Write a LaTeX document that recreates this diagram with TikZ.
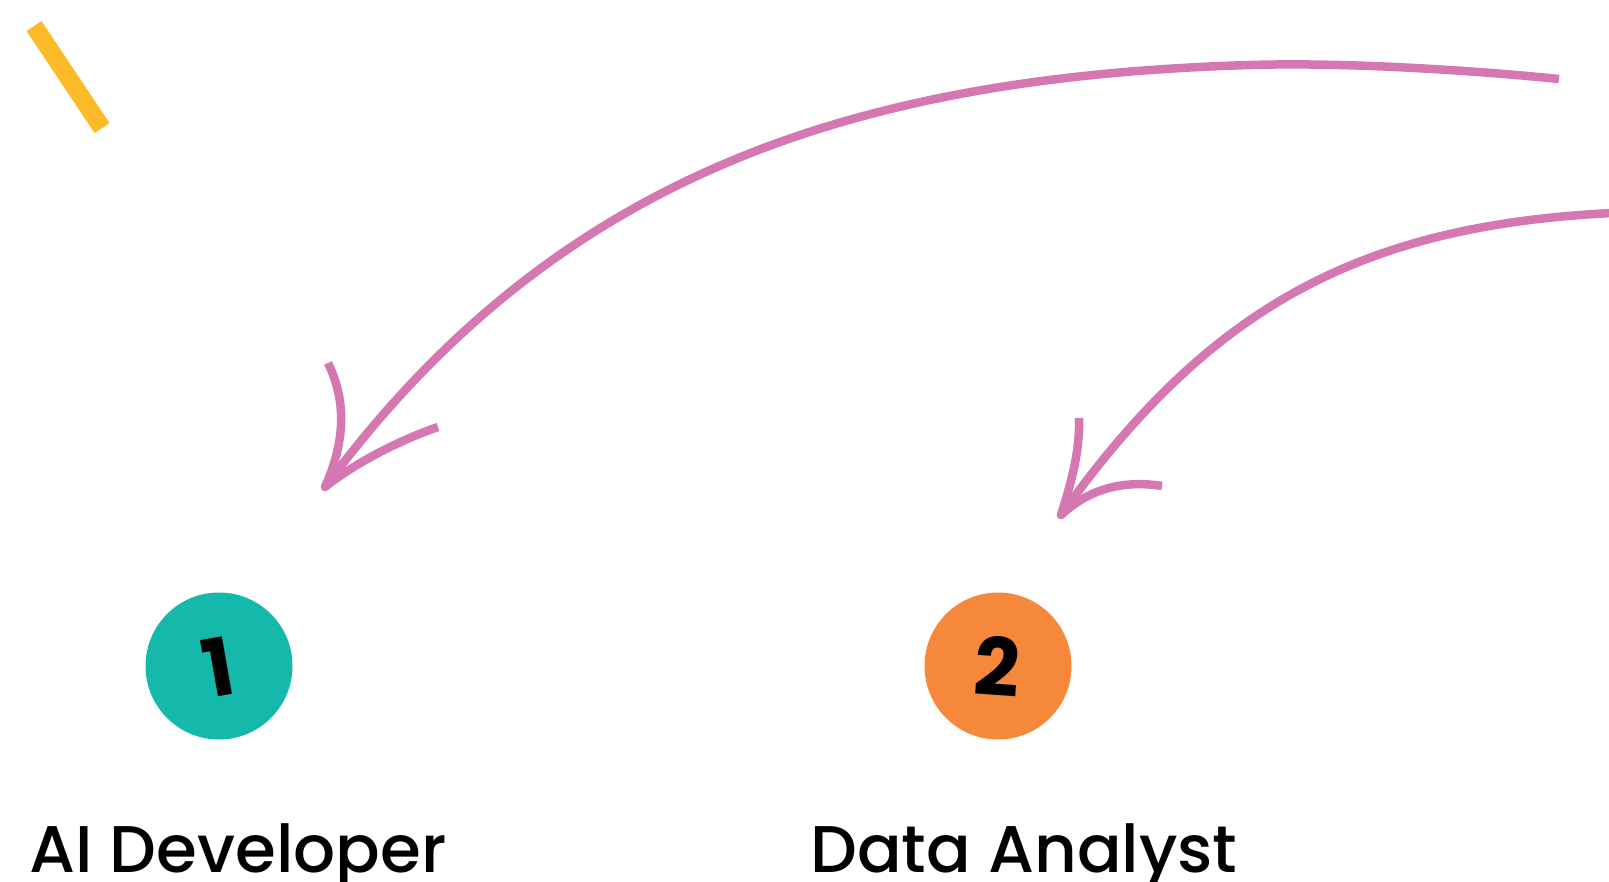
\documentclass[tikz,border=0pt]{standalone}
\usepackage{fontspec}
\setmainfont{Poppins}
\newfontfamily\medfont{Poppins Medium}
\definecolor{arrowpink}{HTML}{D577B1}
\definecolor{tealc}{HTML}{14B9AB}
\definecolor{orangec}{HTML}{F5883A}
\definecolor{yellowc}{HTML}{FDBA26}
\tikzset{
  pinkline/.style={draw=arrowpink, line width=8.5pt, line cap=butt, line join=round},
  headline/.style={draw=arrowpink, line width=8.5pt, line cap=butt, line join=round},
  numcircle/.style={circle, minimum size=147pt, inner sep=0pt},
  numtext/.style={font=\fontsize{80}{80}\selectfont\bfseries, text=black},
  labeltext/.style={font=\medfont\fontsize{66}{66}\selectfont, text=black, inner sep=0pt, anchor=base west}
}
\begin{document}
\begin{tikzpicture}[x=1pt,y=-1pt]
\useasboundingbox (0,0) rectangle (1609,881);
% yellow bar
\coordinate (ya) at (34,26);
\coordinate (yb) at (102,128);
\draw[yellowc, line width=18pt] (ya) -- (yb);
% circles
\node[numcircle, fill=tealc] (c1) at (219,666) {};
\node[numcircle, fill=orangec] (c2) at (998,666) {};
\node[numtext, rotate=10] (n1) at (218,667) {1};
\node[numtext, rotate=-4] (n2) at (997,666) {2};
% labels
\node[labeltext] (l1) at (29,872) {AI Developer};
\node[labeltext] (l2) at (810,872) {Data Analyst};
% arrow 1
\coordinate (a1s) at (1559,79);
\coordinate (a1m) at (1250,65);
\coordinate (a1t) at (325,487);
\draw[pinkline] (a1s) .. controls (1480,71) and (1350,62) .. (a1m)
  .. controls (850,77) and (555,176.5) .. (a1t);
\coordinate (a1l) at (328,363);
\coordinate (a1r) at (438,427);
\draw[headline] (a1l) .. controls (346,400) and (346,440) .. (a1t)
  .. controls (355,463) and (400,440) .. (a1r);
% arrow 2
\coordinate (a2s) at (1612,213);
\coordinate (a2t) at (1061,515);
\draw[pinkline] (a2s) .. controls (1362,225.5) and (1211,305) .. (a2t);
\coordinate (a2l) at (1079,418);
\coordinate (a2r) at (1162,486);
\draw[headline] (a2l) .. controls (1080,450) and (1072,480) .. (a2t)
  .. controls (1090,488) and (1125,480) .. (a2r);
\end{tikzpicture}
\end{document}
